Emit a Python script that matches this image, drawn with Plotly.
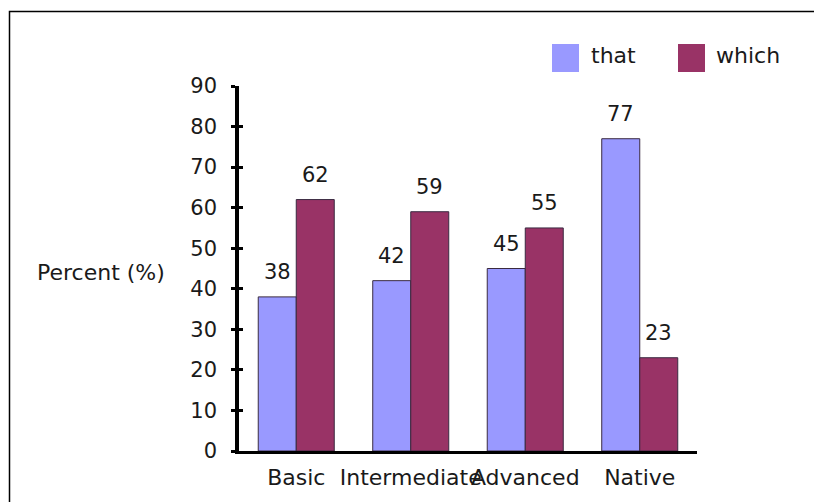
import plotly.graph_objects as go

# Chart data
levels = ["Basic", "Intermediate", "Advanced", "Native"]
that_pct = [38, 42, 45, 77]
which_pct = [62, 59, 55, 23]
series_names = ["that", "which"]
series_colors = ["#9999FF", "#993366"]

W, H = 814, 502
L, R, T, B = 239, 117, 86, 51
plot_w = W - L - R
plot_h = H - T - B

FONT = "DejaVu Sans"
TXT = "#1a1a1a"
NUM_SIZE = 21
WORD_SIZE = 22


def px_x(px):
    return (px - L) / plot_w


def px_y(py):
    return (H - B - py) / plot_h


fig = go.Figure()
for name, vals, col in zip(series_names, [that_pct, which_pct], series_colors):
    fig.add_trace(go.Bar(
        x=levels, y=vals, name=name,
        marker=dict(color=col, line=dict(color="#3a2a40", width=1)),
        showlegend=False,
    ))

# Value labels above each bar
annotations = []
for vals, shift in [(that_pct, -19), (which_pct, 19)]:
    for cat, v in zip(levels, vals):
        annotations.append(dict(
            x=cat, y=v, xref="x", yref="y", text=str(v), showarrow=False,
            xshift=shift, yanchor="bottom", yshift=11,
            font=dict(family=FONT, size=NUM_SIZE, color=TXT),
        ))

# Axis title drawn horizontally to the left of the axis
annotations.append(dict(
    x=px_x(101), y=px_y(272), xref="paper", yref="paper", text="Percent (%)",
    showarrow=False, xanchor="center", yanchor="middle",
    font=dict(family=FONT, size=WORD_SIZE, color=TXT),
))

# Legend: large square swatches with labels
shapes = []
legend_items = [(552, 589), (678, 714)]
for (sx, tx), name, col in zip(legend_items, series_names, series_colors):
    shapes.append(dict(
        type="rect", xref="paper", yref="paper",
        x0=px_x(sx), x1=px_x(sx + 27), y0=px_y(72), y1=px_y(44),
        fillcolor=col, line=dict(width=0),
    ))
    annotations.append(dict(
        x=px_x(tx), y=px_y(55), xref="paper", yref="paper", text=name,
        showarrow=False, xanchor="left", yanchor="middle",
        font=dict(family=FONT, size=WORD_SIZE, color=TXT),
    ))

# Outer frame
shapes.append(dict(
    type="rect", xref="paper", yref="paper",
    x0=px_x(9.5), x1=px_x(W + 20), y0=px_y(H + 20), y1=px_y(11.5),
    line=dict(color="black", width=1.5), fillcolor="rgba(0,0,0,0)", layer="below",
))

fig.update_layout(
    width=W, height=H,
    margin=dict(l=L, r=R, t=T, b=B, autoexpand=False),
    paper_bgcolor="white", plot_bgcolor="white",
    barmode="group", bargap=0.336, bargroupgap=0,
    font=dict(family=FONT, size=NUM_SIZE, color=TXT),
    annotations=annotations, shapes=shapes,
    xaxis=dict(
        showline=True, linecolor="black", linewidth=3,
        ticks="", showgrid=False, zeroline=False,
        tickangle=0, automargin=False,
        tickfont=dict(family=FONT, size=WORD_SIZE, color=TXT),
        ticklabelstandoff=5,
    ),
    yaxis=dict(
        range=[0, 90], dtick=10, tick0=0, automargin=False,
        showline=True, linecolor="black", linewidth=3.5,
        ticks="outside", ticklen=4, tickwidth=2.5, tickcolor="black",
        showgrid=False, zeroline=False,
        tickfont=dict(family=FONT, size=NUM_SIZE, color=TXT),
        ticklabelstandoff=10,
    ),
    yaxis2=dict(
        range=[0, 90], dtick=10, tick0=0, overlaying="y", side="left",
        anchor="x", ticks="inside", ticklen=4, tickwidth=2.5, tickcolor="black",
        showticklabels=False, showgrid=False, zeroline=False, showline=False,
        automargin=False,
    ),
)

# Invisible trace so the inside ticks axis is rendered
fig.add_trace(go.Scatter(x=[levels[0]], y=[0], yaxis="y2", mode="markers",
                         marker=dict(opacity=0), showlegend=False, hoverinfo="skip"))

fig.write_html("out.html")
